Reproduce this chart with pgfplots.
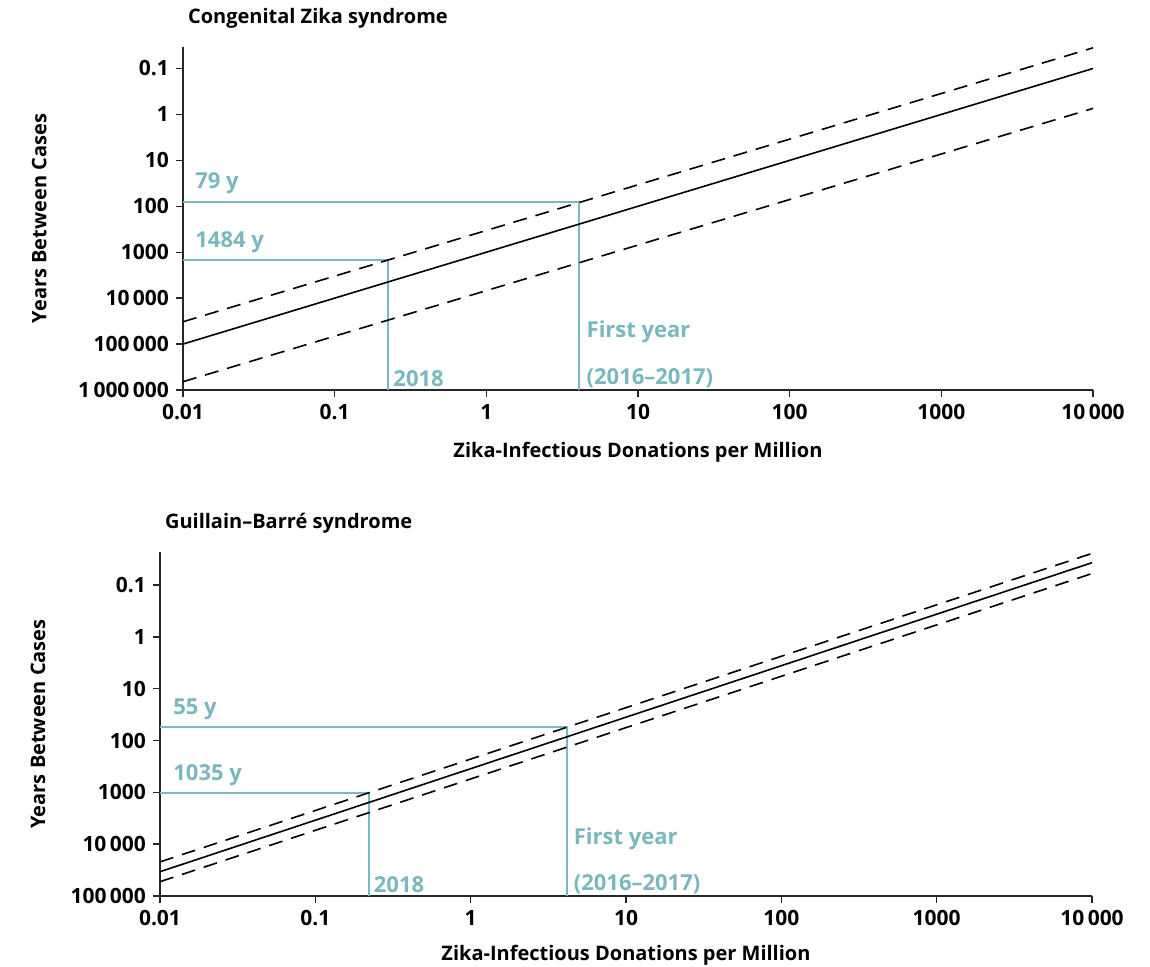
\documentclass[border=0pt]{standalone}
\usepackage{pgfplots}
\pgfplotsset{compat=1.18}
\usepackage{fontspec}
\setmainfont{Open Sans}
\definecolor{zc}{RGB}{122,183,190}
\begin{document}
\begin{tikzpicture}
\useasboundingbox (0,0) rectangle (575pt,483.5pt);
% top panel
\begin{axis}[
  scale only axis,
  xmode=log, ymode=log, y dir=reverse,
  xmin=0.01, xmax=10000,
  axis lines=left,
  axis line style={-, line width=0.8pt, black!85},
  tick align=outside,
  major tick length=3.5pt,
  tick style={line width=0.7pt, black!85},
  xminorticks=false, yminorticks=false,
  xtick={0.01,0.1,1,10,100,1000,10000},
  xticklabels={0.01,0.1,1,10,100,1000,10\,000},
  tick label style={font=\fontsize{10.5}{12}\selectfont\bfseries},
  label style={font=\fontsize{10}{12}\selectfont\bfseries},
  title style={font=\fontsize{10}{12}\selectfont\bfseries, at={(axis description cs:0,1)}, anchor=west, yshift=8.5pt, xshift=-1pt},
  xlabel={Zika-Infectious Donations per Million},
  ylabel={Years Between Cases},
  clip=false,
  at={(91.5pt,288.5pt)}, anchor=south west,
  width=455pt, height=171.5pt,
  ymin=0.034, ymax=1000000,
  ytick={0.1,1,10,100,1000,10000,100000,1000000},
  yticklabels={0.1,1,10,100,1000,10\,000,100\,000,1\,000\,000},
  title={Congenital Zika syndrome},
  ylabel style={at={(axis description cs:-0.158,0.5)}, anchor=center},
  xlabel style={at={(axis description cs:0.5,0)}, anchor=center, yshift=-31pt},
]
\addplot[zc, line width=1pt] coordinates {(0.01,79) (4.1,79) (4.1,1000000)};
\addplot[zc, line width=1pt] coordinates {(0.01,1484) (0.225,1484) (0.225,1000000)};
\addplot[black, line width=0.8pt] coordinates {(0.01,100000) (10000,0.1)};
\addplot[black, line width=0.8pt, dash pattern=on 7pt off 4.5pt] coordinates {(0.01,32700) (10000,0.0355)};
\addplot[black, line width=0.8pt, dash pattern=on 7pt off 4.5pt] coordinates {(0.01,660000) (10000,0.74)};
\node[text=zc, font=\fontsize{11}{13}\selectfont\bfseries, inner sep=0pt, anchor=south west, xshift=6pt, yshift=3.5pt] at (axis cs:0.01,79) {79 y};
\node[text=zc, font=\fontsize{11}{13}\selectfont\bfseries, inner sep=0pt, anchor=south west, xshift=6pt, yshift=3.5pt] at (axis cs:0.01,1484) {1484 y};
\node[text=zc, font=\fontsize{11}{13}\selectfont\bfseries, inner sep=0pt, anchor=south west, xshift=2.5pt, yshift=1.5pt] at (axis cs:0.225,1000000) {2018};
\node[text=zc, font=\fontsize{11}{13}\selectfont\bfseries, inner sep=0pt, anchor=south west, xshift=3.5pt, yshift=1pt] at (axis cs:4.1,1000000) {(2016--2017)};
\node[text=zc, font=\fontsize{11}{13}\selectfont\bfseries, inner sep=0pt, anchor=south west, xshift=3.5pt, yshift=23.5pt] at (axis cs:4.1,1000000) {First year};
\end{axis}
% bottom panel
\begin{axis}[
  scale only axis,
  xmode=log, ymode=log, y dir=reverse,
  xmin=0.01, xmax=10000,
  axis lines=left,
  axis line style={-, line width=0.8pt, black!85},
  tick align=outside,
  major tick length=3.5pt,
  tick style={line width=0.7pt, black!85},
  xminorticks=false, yminorticks=false,
  xtick={0.01,0.1,1,10,100,1000,10000},
  xticklabels={0.01,0.1,1,10,100,1000,10\,000},
  tick label style={font=\fontsize{10.5}{12}\selectfont\bfseries},
  label style={font=\fontsize{10}{12}\selectfont\bfseries},
  title style={font=\fontsize{10}{12}\selectfont\bfseries, at={(axis description cs:0,1)}, anchor=west, yshift=8.5pt, xshift=-1pt},
  xlabel={Zika-Infectious Donations per Million},
  ylabel={Years Between Cases},
  clip=false,
  at={(80pt,35.5pt)}, anchor=south west,
  width=466pt, height=172pt,
  ymin=0.023, ymax=100000,
  ytick={0.1,1,10,100,1000,10000,100000},
  yticklabels={0.1,1,10,100,1000,10\,000,100\,000},
  title={Guillain--Barré syndrome},
  ylabel style={at={(axis description cs:-0.131,0.5)}, anchor=center},
  xlabel style={at={(axis description cs:0.5,0)}, anchor=center, yshift=-29.5pt},
]
\addplot[zc, line width=1pt] coordinates {(0.01,55) (4.2,55) (4.2,100000)};
\addplot[zc, line width=1pt] coordinates {(0.01,1035) (0.22,1035) (0.22,100000)};
\addplot[black, line width=0.8pt] coordinates {(0.01,34000) (10000,0.037)};
\addplot[black, line width=0.8pt, dash pattern=on 7pt off 4.5pt] coordinates {(0.01,22000) (10000,0.0245)};
\addplot[black, line width=0.8pt, dash pattern=on 7pt off 4.5pt] coordinates {(0.01,53000) (10000,0.06)};
\node[text=zc, font=\fontsize{11}{13}\selectfont\bfseries, inner sep=0pt, anchor=south west, xshift=6.5pt, yshift=3.5pt] at (axis cs:0.01,55) {55 y};
\node[text=zc, font=\fontsize{11}{13}\selectfont\bfseries, inner sep=0pt, anchor=south west, xshift=6.5pt, yshift=3.5pt] at (axis cs:0.01,1035) {1035 y};
\node[text=zc, font=\fontsize{11}{13}\selectfont\bfseries, inner sep=0pt, anchor=south west, xshift=2.5pt, yshift=1.5pt] at (axis cs:0.22,100000) {2018};
\node[text=zc, font=\fontsize{11}{13}\selectfont\bfseries, inner sep=0pt, anchor=south west, xshift=3pt, yshift=1pt] at (axis cs:4.2,100000) {(2016--2017)};
\node[text=zc, font=\fontsize{11}{13}\selectfont\bfseries, inner sep=0pt, anchor=south west, xshift=3pt, yshift=23pt] at (axis cs:4.2,100000) {First year};
\end{axis}
\end{tikzpicture}
\end{document}
